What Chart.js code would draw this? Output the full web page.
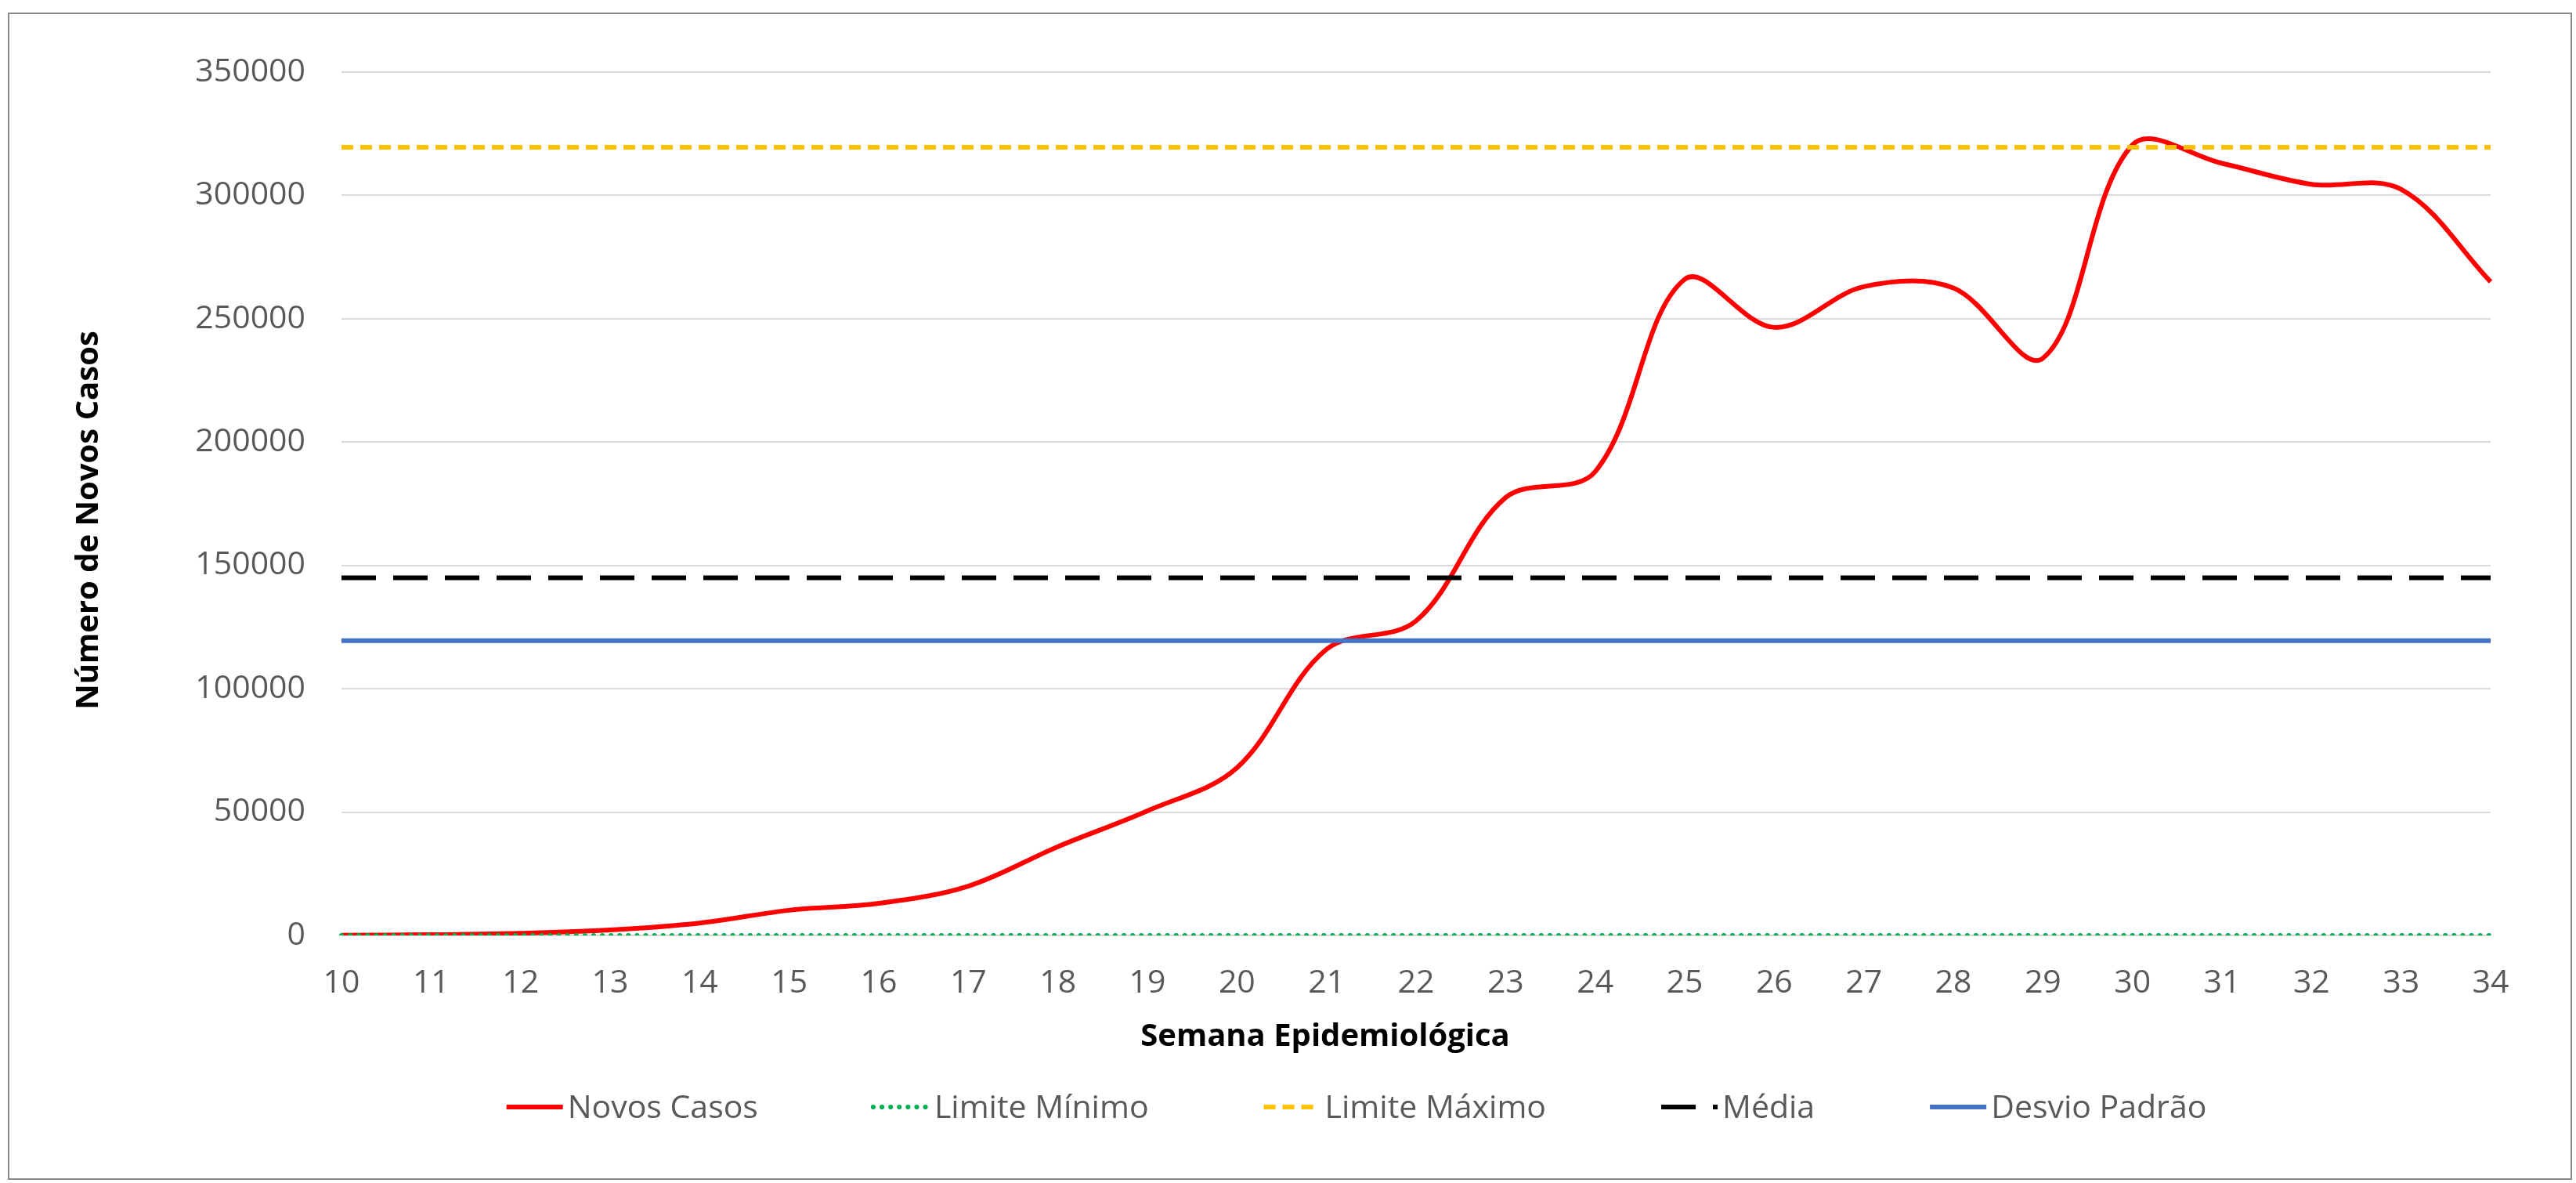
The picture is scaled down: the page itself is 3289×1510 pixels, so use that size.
<!DOCTYPE html>
<html>
<head>
<meta charset="utf-8">
<script src="https://cdn.jsdelivr.net/npm/chart.js@4.4.1/dist/chart.umd.min.js"></script>
<style>
  html, body { margin: 0; padding: 0; background: #fff; }
  #wrap { width: 3289px; height: 1510px; position: relative; }
</style>
</head>
<body>
<div id="wrap"><canvas id="grafico"></canvas></div>
<script>
// semanas epidemiológicas (eixo x)
const semanas = ['10', '11', '12', '13', '14', '15', '16', '17', '18', '19', '20', '21', '22',
  '23', '24', '25', '26', '27', '28', '29', '30', '31', '32', '33', '34'];

// novos casos por semana
const novosCasos = [100, 300, 900, 2200, 5000, 10200, 13000, 20000, 36000, 50500, 68000, 116000,
  127500, 177500, 188000, 266000, 246500, 263000, 262500, 234000, 320500, 313000, 304500, 302500, 265000];

// linhas de referência
const limiteMinimo = [0, 0, 0, 0, 0, 0, 0, 0, 0, 0, 0, 0, 0, 0, 0, 0, 0, 0, 0, 0, 0, 0, 0, 0, 0];
const limiteMaximo = [319500, 319500, 319500, 319500, 319500, 319500, 319500, 319500, 319500, 319500,
  319500, 319500, 319500, 319500, 319500, 319500, 319500, 319500, 319500, 319500, 319500, 319500,
  319500, 319500, 319500];
const media = [145000, 145000, 145000, 145000, 145000, 145000, 145000, 145000, 145000, 145000,
  145000, 145000, 145000, 145000, 145000, 145000, 145000, 145000, 145000, 145000, 145000, 145000,
  145000, 145000, 145000];
const desvioPadrao = [119500, 119500, 119500, 119500, 119500, 119500, 119500, 119500, 119500, 119500,
  119500, 119500, 119500, 119500, 119500, 119500, 119500, 119500, 119500, 119500, 119500, 119500,
  119500, 119500, 119500];

// ticks do eixo y
const ticksY = [0, 50000, 100000, 150000, 200000, 250000, 300000, 350000];

const fonte = '"Open Sans", "Liberation Sans", sans-serif';

// fundo branco + moldura cinza
const moldura = {
  id: 'moldura',
  beforeDraw(chart) {
    const ctx = chart.ctx;
    ctx.save();
    ctx.fillStyle = '#ffffff';
    ctx.fillRect(0, 0, chart.width, chart.height);
    ctx.strokeStyle = '#898989';
    ctx.lineWidth = 2;
    ctx.strokeRect(11, 17, 3272, 1488);
    ctx.restore();
  },
};

// títulos dos eixos + legenda desenhados à mão (posições como no Excel)
const legenda = {
  id: 'legenda',
  afterDraw(chart) {
    const ctx = chart.ctx;
    ctx.save();

    // títulos
    ctx.fillStyle = '#000000';
    ctx.font = 'bold 40px ' + fonte;
    ctx.textAlign = 'center';
    ctx.textBaseline = 'middle';
    ctx.fillText('Semana Epidemiológica', 1692, 1324);
    ctx.translate(114, 664);
    ctx.rotate(-Math.PI / 2);
    ctx.fillText('Número de Novos Casos', 0, 0);
    ctx.setTransform(1, 0, 0, 1, 0, 0);

    // legenda (amostra colada no texto)
    const amostra = 72;
    const espaco = 6;
    const entre = 147;
    ctx.font = '41px ' + fonte;
    ctx.textAlign = 'left';
    const itens = chart.data.datasets.map((ds) => ({ ds, w: ctx.measureText(ds.label).width }));
    const total = itens.reduce((s, it) => s + amostra + espaco + it.w, 0) + entre * (itens.length - 1);
    let x = 1732 - total / 2;
    const y = 1413;
    itens.forEach((it) => {
      const ds = it.ds;
      ctx.strokeStyle = ds.borderColor;
      ctx.lineWidth = ds.borderWidth;
      ctx.lineCap = ds.borderCapStyle || 'butt';
      ctx.setLineDash(ds.borderDash || []);
      ctx.beginPath();
      ctx.moveTo(x, y);
      ctx.lineTo(x + amostra, y);
      ctx.stroke();
      ctx.setLineDash([]);
      ctx.fillStyle = '#595959';
      ctx.fillText(ds.label, x + amostra + espaco, y + 2);
      x += amostra + espaco + it.w + entre;
    });
    ctx.restore();
  },
};

new Chart(document.getElementById('grafico'), {
  type: 'line',
  plugins: [moldura, legenda],
  data: {
    labels: semanas,
    datasets: [
      {
        label: 'Novos Casos',
        data: novosCasos,
        borderColor: '#ff0000',
        borderWidth: 6,
        tension: 0.35,
        order: 5,
      },
      {
        label: 'Limite Mínimo',
        data: limiteMinimo,
        borderColor: '#00b050',
        borderWidth: 6,
        borderDash: [0.1, 11],
        borderCapStyle: 'round',
        order: 4,
      },
      {
        label: 'Limite Máximo',
        data: limiteMaximo,
        borderColor: '#ffc000',
        borderWidth: 6,
        borderDash: [15, 9],
        order: 3,
      },
      {
        label: 'Média',
        data: media,
        borderColor: '#000000',
        borderWidth: 6,
        borderDash: [44, 22],
        order: 2,
      },
      {
        label: 'Desvio Padrão',
        data: desvioPadrao,
        borderColor: '#4472c4',
        borderWidth: 6,
        order: 1,
      },
    ],
  },
  options: {
    responsive: true,
    maintainAspectRatio: false,
    devicePixelRatio: 1,
    animation: false,
    elements: {
      point: { radius: 0 }, // sem marcadores
    },
    layout: {
      padding: { top: 92, right: 109, bottom: 156, left: 0 },
    },
    plugins: {
      legend: { display: false },
      tooltip: { enabled: false },
    },
    scales: {
      x: {
        offset: false,
        grid: { display: false, drawTicks: false },
        border: { display: false },
        ticks: {
          color: '#595959',
          font: { family: fonte, size: 41 },
          padding: 37,
          maxRotation: 0,
          autoSkip: false,
        },
        afterFit(scale) {
          scale.height = 160;
        },
      },
      y: {
        min: 0,
        max: 350000,
        grid: { color: '#d9d9d9', lineWidth: 2, drawTicks: false },
        border: { display: false },
        afterBuildTicks(scale) {
          scale.ticks = ticksY.map((v) => ({ value: v }));
        },
        ticks: {
          color: '#595959',
          font: { family: fonte, size: 41 },
          padding: 46,
          callback: (v) => String(v), // sem separador de milhar
        },
        afterFit(scale) {
          scale.width = 436;
        },
      },
    },
  },
});
</script>
</body>
</html>
